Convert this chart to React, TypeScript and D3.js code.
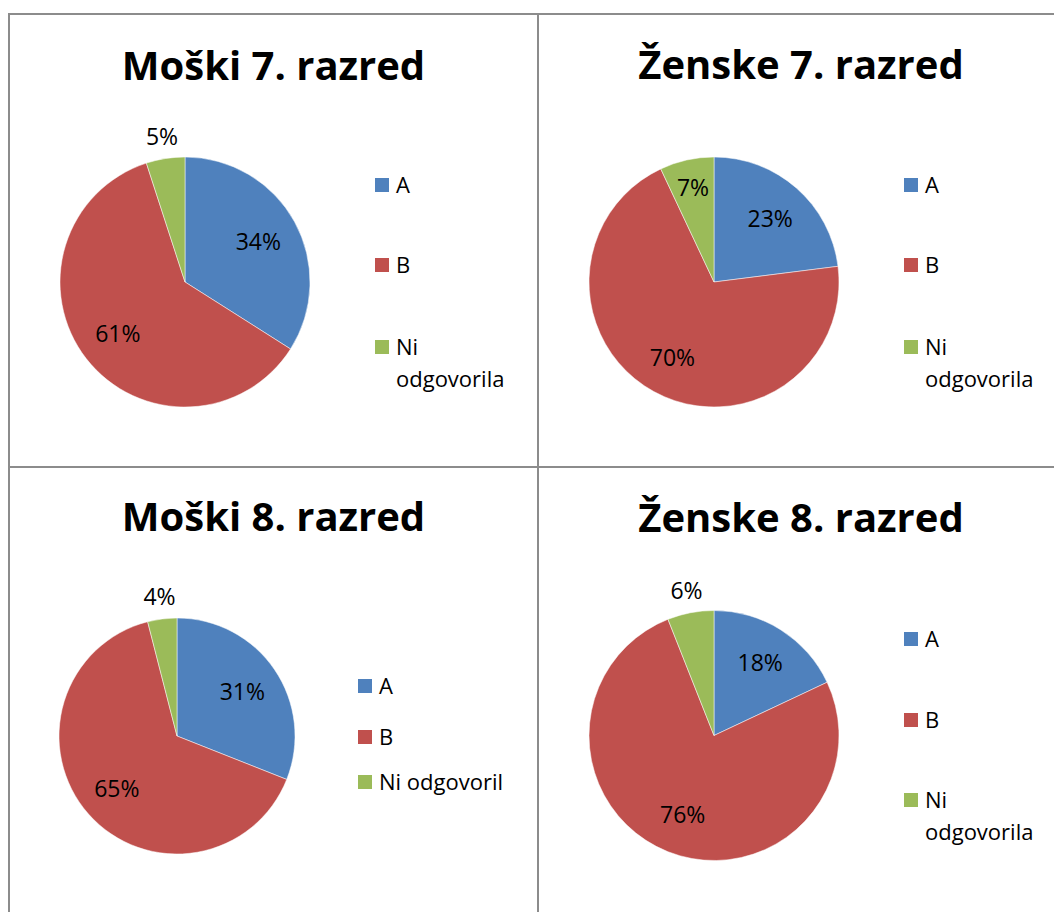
import React from "react";
import * as d3 from "d3";

const categories = ["A", "B", "Ni odgovorila"];
const categoriesM8 = ["A", "B", "Ni odgovoril"];
const titles = ["Moški 7. razred", "Ženske 7. razred", "Moški 8. razred", "Ženske 8. razred"];
const moski7 = [34, 61, 5];
const zenske7 = [23, 70, 7];
const moski8 = [31, 65, 4];
const zenske8 = [18, 76, 6];

const colors = ["#4F81BD", "#C0504D", "#9BBB59"];

const panels = [
  { title: titles[0], values: moski7, legend: categories, cx: 185, cy: 282, r: 125, tx: 273.5, ty: 80, lx: 375, ly: [178, 258, 340], wrap: true, outside: [false, false, true], inR: [0.67, 0.68, 0.77] },
  { title: titles[1], values: zenske7, legend: categories, cx: 714, cy: 282, r: 125, tx: 801, ty: 79, lx: 904, ly: [178, 258, 340], wrap: true, outside: [false, false, false], inR: [0.68, 0.69, 0.77] },
  { title: titles[2], values: moski8, legend: categoriesM8, cx: 177, cy: 736, r: 118, tx: 273.5, ty: 531, lx: 358, ly: [679, 730, 775], wrap: false, outside: [false, false, true], inR: [0.67, 0.68, 0.77] },
  { title: titles[3], values: zenske8, legend: categories, cx: 714, cy: 735.5, r: 125, tx: 801, ty: 532, lx: 904, ly: [632, 713, 793], wrap: true, outside: [false, false, true], inR: [0.69, 0.68, 0.77] },
];

const FONT = "'Open Sans', sans-serif";

function Panel({ p }: { p: typeof panels[number] }) {
  const pie = d3.pie<number>().sort(null).value((d) => d)(p.values);
  const arc = d3.arc<d3.PieArcDatum<number>>().innerRadius(0).outerRadius(p.r);
  return (
    <g>
      <text x={p.tx} y={p.ty} textAnchor="middle" fontFamily={FONT} fontWeight={700} fontSize={40} fill="#000">
        {p.title}
      </text>
      <g transform={`translate(${p.cx},${p.cy})`}>
        {pie.map((s, i) => (
          <path key={i} d={arc(s) || ""} fill={colors[i]} stroke="#fff" strokeWidth={0.5} />
        ))}
        {pie.map((s, i) => {
          const rr = p.outside[i] ? p.r + 22 : p.r * p.inR[i];
          const c = d3.arc<d3.PieArcDatum<number>>().innerRadius(rr).outerRadius(rr).centroid(s);
          return (
            <text key={"l" + i} x={c[0]} y={c[1]} dy="0.36em" textAnchor="middle" fontFamily={FONT} fontSize={23} fill="#000">
              {s.data + "%"}
            </text>
          );
        })}
      </g>
      {p.legend.map((name, i) => {
        const y = p.ly[i];
        const parts = p.wrap && name.includes(" ") ? name.split(" ") : [name];
        return (
          <g key={"g" + i}>
            <rect x={p.lx} y={y} width={14} height={14} fill={colors[i]} />
            <text x={p.lx + 21} y={y + 15} fontFamily={FONT} fontSize={22} fill="#000">
              {parts.map((t, j) => (
                <tspan key={j} x={p.lx + 21} dy={j === 0 ? 0 : 32}>
                  {t}
                </tspan>
              ))}
            </text>
          </g>
        );
      })}
    </g>
  );
}

export default function App() {
  return (
    <svg width={1054} height={912} style={{ position: "absolute", left: 0, top: 0, background: "#fff" }}>
      <rect x={0} y={0} width={1054} height={912} fill="#fff" />
      <g stroke="#8c8c8c" strokeWidth={2}>
        <line x1={8} y1={14} x2={1054} y2={14} />
        <line x1={9} y1={13} x2={9} y2={912} />
        <line x1={538} y1={13} x2={538} y2={912} />
        <line x1={8} y1={467} x2={1054} y2={467} />
      </g>
      {panels.map((p, i) => (
        <Panel key={i} p={p} />
      ))}
    </svg>
  );
}
